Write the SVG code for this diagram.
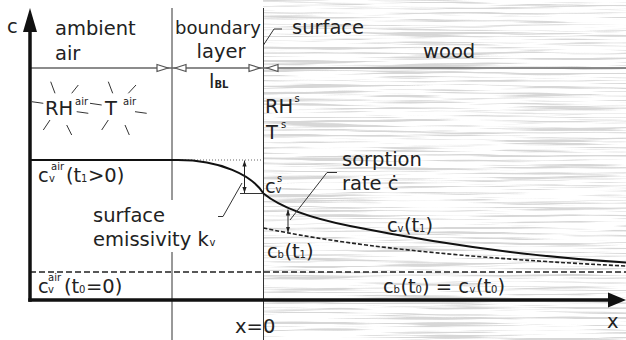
<svg xmlns="http://www.w3.org/2000/svg" width="626" height="340" viewBox="0 0 626 340">
<defs>
<filter id="grain" x="263" y="0" width="363" height="340" filterUnits="userSpaceOnUse">
<feTurbulence type="fractalNoise" baseFrequency="0.008 0.4" numOctaves="3" seed="7" result="n"/>
<feColorMatrix in="n" type="matrix" values="0 0 0 0 0.68  0 0 0 0 0.68  0 0 0 0 0.68  6 0 0 0 -3.0"/>
</filter>
<marker id="ah" viewBox="0 0 10 10" refX="10" refY="5" markerWidth="6" markerHeight="6" orient="auto-start-reverse" markerUnits="userSpaceOnUse">
<path d="M0,1.5 L10,5 L0,8.5 Z" fill="#222"/>
</marker>
</defs>
<style>
text{font-family:"DejaVu Sans","Verdana",sans-serif;font-size:19.5px;fill:#222}
.s{font-size:10px}
.thin{stroke:#333;stroke-width:1;fill:none}
.grey{stroke:#666;stroke-width:1.5;fill:none}
.tri{stroke:#555;stroke-width:1.2;fill:#fff}
.ray{stroke:#333;stroke-width:1;fill:none}
.curve{stroke:#111;stroke-width:2;fill:none}
.dash{stroke:#222;stroke-width:1.6;fill:none;stroke-dasharray:6 3}
.dash2{stroke:#222;stroke-width:1.6;fill:none;stroke-dasharray:4 2}
.dot{stroke:#666;stroke-width:1;fill:none;stroke-dasharray:1 2}
.axis{stroke:#111;stroke-width:3.5;fill:none}
.dbl{stroke:#222;stroke-width:1;fill:none}
</style>
<rect width="626" height="340" fill="#fff"/>
<g id="wood-texture">
<rect x="263" y="0" width="363" height="340" fill="#fff"/>
<rect x="263" y="0" width="363" height="340" filter="url(#grain)"/>
</g>
<g id="connectors">
<line class="thin" x1="172" y1="8" x2="172" y2="200"/>
<line class="thin" x1="172" y1="252" x2="172" y2="340"/>
<line class="thin" x1="263.5" y1="8" x2="263.5" y2="340"/>
<line class="grey" x1="30" y1="68" x2="626" y2="68"/>
<polygon class="tri" points="157,64.5 168,68 157,71.5"/>
<polygon class="tri" points="175,68 186,64.5 186,71.5"/>
<polygon class="tri" points="249,64.5 260,68 249,71.5"/>
<polygon class="tri" points="267,68 278,64.5 278,71.5"/>
<path class="thin" d="M263.5,45 L274,29 L282,29"/>
<line class="dot" x1="176" y1="160" x2="263" y2="160"/>
<path class="curve" d="M30,160 H178 C220,160 252,175 263.5,193.5 C280,207 310,218 350,226 C400,236 500,255 626,262.5"/>
<path class="dash2" d="M263.5,228 C320,240 420,256 626,266"/>
<line class="dash" x1="30" y1="272" x2="626" y2="272"/>
<line class="thin" x1="240" y1="193.5" x2="263.5" y2="193.5"/>
<line class="dbl" x1="244.5" y1="160.5" x2="244.5" y2="193" marker-start="url(#ah)" marker-end="url(#ah)"/>
<line class="dbl" x1="288" y1="209.5" x2="288" y2="232.5" marker-start="url(#ah)" marker-end="url(#ah)"/>
<path class="thin" d="M242,183 L223,216.5 L218,216.5"/>
<path class="thin" d="M290,220 L327,172.5 L337,172.5"/>
<line class="axis" x1="30" y1="30" x2="30" y2="301.7"/>
<polygon points="23,32 30,8 37,32" fill="#111"/>
<line class="axis" x1="28.3" y1="300" x2="610" y2="300"/>
<polygon points="608,292.5 626,300 608,307.5" fill="#111"/>
</g>
<g id="air-rays">
<path class="ray" d="M50.7,81.7 L55,93.3 M71.7,93.3 L78.3,85 M31.7,101.7 L43.3,103.3 M76.7,111.7 L88.3,113.3 M43.3,130 L50,120 M66.7,125 L71.7,135"/>
<path class="ray" d="M108.3,81.7 L112.7,93.3 M128.3,93.3 L136,85 M90,103.3 L101.7,105 M135,111.7 L146.7,113.3 M101.7,130 L108.3,120 M125,125 L129.3,135"/>
</g>
<g id="labels">
<text x="7" y="33">c</text>
<g id="ambient-air"><text x="55" y="35">ambient</text><text x="55" y="60">air</text></g>
<g id="boundary-layer"><text x="218" y="34" text-anchor="middle" style="font-size:18px">boundary</text><text x="221" y="58" text-anchor="middle">layer</text>
<text x="209" y="88">l</text><text x="214.5" y="88" class="s" font-weight="bold">BL</text></g>
<g id="surface"><text x="292" y="34">surface</text></g>
<g id="wood"><text x="423" y="58">wood</text></g>
<g id="rh-air"><text x="45" y="115">RH</text><text x="75" y="105" class="s">air</text>
<text x="105" y="115">T</text><text x="123" y="105" class="s">air</text></g>
<g id="rh-s"><text x="265" y="113">RH</text><text x="294.5" y="102" class="s">s</text>
<text x="266" y="139">T</text><text x="281" y="128" class="s">s</text></g>
<g id="cvair-t1"><text x="38" y="182">c</text><text x="49" y="182" class="s">v</text><text x="51" y="170" class="s">air</text>
<text x="66" y="182">(t</text><text x="81" y="182" class="s">1</text><text x="88" y="182">&gt;0)</text></g>
<g id="cvs"><text x="265" y="193">c</text><text x="275.5" y="193" class="s">v</text><text x="277" y="182" class="s">s</text></g>
<g id="emissivity"><text x="93" y="222">surface</text><text x="93" y="246">emissivity k</text><text x="209.5" y="246" class="s">v</text></g>
<g id="sorption"><text x="342" y="166">sorption</text><text x="342" y="190">rate ċ</text></g>
<g id="cv-t1"><text x="387" y="232">c</text><text x="397.5" y="232" class="s">v</text><text x="404" y="232">(t</text><text x="419" y="232" class="s">1</text><text x="425.5" y="232">)</text></g>
<g id="cb-t1"><text x="267" y="258">c</text><text x="277.5" y="258" class="s">b</text><text x="284.5" y="258">(t</text><text x="299.5" y="258" class="s">1</text><text x="306" y="258">)</text></g>
<g id="cvair-t0"><text x="38" y="293">c</text><text x="48" y="293" class="s">v</text><text x="48" y="281" class="s">air</text>
<text x="64" y="293">(t</text><text x="79" y="293" class="s">0</text><text x="86" y="293">=0)</text></g>
<g id="cb-t0"><text x="383" y="293">c</text><text x="393.5" y="293" class="s">b</text><text x="400.5" y="293">(t</text><text x="415.5" y="293" class="s">0</text><text x="422" y="293">) = c</text><text x="469.5" y="293" class="s">v</text><text x="476" y="293">(t</text><text x="491" y="293" class="s">0</text><text x="497.5" y="293">)</text></g>
<text x="235" y="333">x=0</text>
<text x="607" y="328">x</text>
</g>
</svg>
